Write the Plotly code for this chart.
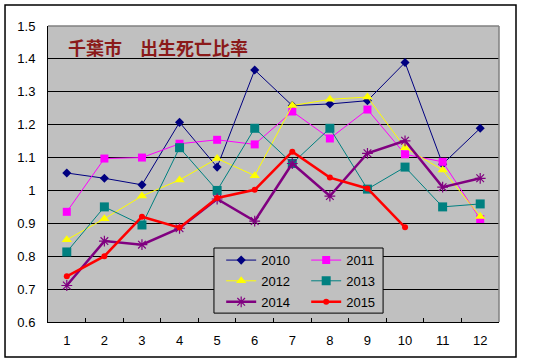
import plotly.graph_objects as go

months = list(range(1, 13))
month_labels = [str(m) for m in months]

v2010 = [1.053, 1.037, 1.017, 1.207, 1.071, 1.366, 1.258, 1.263, 1.273, 1.389, 1.080, 1.189]
v2011 = [0.935, 1.097, 1.100, 1.142, 1.154, 1.140, 1.240, 1.158, 1.246, 1.110, 1.087, 0.913]
v2012 = [0.850, 0.914, 0.983, 1.032, 1.097, 1.045, 1.258, 1.277, 1.284, 1.130, 1.062, 0.921]
v2013 = [0.813, 0.950, 0.895, 1.130, 1.000, 1.189, 1.082, 1.189, 1.004, 1.071, 0.950, 0.959]
v2014 = [0.711, 0.846, 0.835, 0.885, 0.974, 0.907, 1.082, 0.983, 1.113, 1.151, 1.010, 1.037]
v2015 = [0.739, 0.800, 0.920, 0.887, 0.977, 1.002, 1.118, 1.039, 1.006, 0.888]

y_ticks = [0.6, 0.7, 0.8, 0.9, 1.0, 1.1, 1.2, 1.3, 1.4, 1.5]
y_tick_labels = ["0.6", "0.7", "0.8", "0.9", "1", "1.1", "1.2", "1.3", "1.4", "1.5"]

title_text = "千葉市　出生死亡比率"

series = [
    ("2010", v2010, "#000080", "diamond", 7, 1, "legend"),
    ("2011", v2011, "#FF00FF", "square", 8, 1, "legend"),
    ("2012", v2012, "#FFFF00", "triangle-up", 9, 1, "legend2"),
    ("2013", v2013, "#008080", "square", 9, 1, "legend2"),
    ("2014", v2014, "#800080", "asterisk-open", 9, 2.5, "legend3"),
    ("2015", v2015, "#FF0000", "circle", 6, 2.5, "legend3"),
]

fig = go.Figure()
for name, vals, color, sym, size, lw, lg in series:
    marker = dict(symbol=sym, size=size, color=color)
    if sym == "asterisk-open":
        marker["line"] = dict(color=color, width=1.2)
    fig.add_trace(go.Scatter(
        x=months[:len(vals)], y=vals, name=name, mode="lines+markers",
        line=dict(color=color, width=lw), marker=marker, legend=lg,
    ))

font = dict(family="Liberation Sans, Arial, sans-serif", size=13, color="#000000")
leg_common = dict(orientation="h", bgcolor="rgba(0,0,0,0)", borderwidth=0,
                  font=dict(family="Liberation Sans, Arial, sans-serif", size=13, color="#000000"),
                  entrywidth=40, entrywidthmode="pixels", xanchor="left", yanchor="middle",
                  tracegroupgap=0, itemwidth=30)

fig.update_layout(
    width=533, height=363,
    margin=dict(l=48, r=34, t=26, b=41),
    paper_bgcolor="#FFFFFF",
    plot_bgcolor="#C0C0C0",
    font=font,
    showlegend=True,
    hovermode=False,
    legend=dict(x=0.384, y=0.209, **leg_common),
    legend2=dict(x=0.384, y=0.139, **leg_common),
    legend3=dict(x=0.384, y=0.068, **leg_common),
    xaxis=dict(
        range=[0.5, 12.5], tickvals=months, ticktext=month_labels,
        showgrid=False, zeroline=False, showline=True, linecolor="#000000", linewidth=1,
        ticks="", ticklabelstandoff=6, automargin=False,
        minor=dict(tickvals=[m + 0.5 for m in months[:-1]], ticks="inside", ticklen=4,
                   tickcolor="#000000", showgrid=False),
        fixedrange=True,
    ),
    yaxis=dict(
        range=[0.6, 1.5], tickvals=y_ticks, ticktext=y_tick_labels,
        showgrid=True, gridcolor="#000000", gridwidth=1, zeroline=False,
        showline=True, linecolor="#000000", linewidth=1,
        ticks="", ticklabelstandoff=9, automargin=False, fixedrange=True,
    ),
    shapes=[
        dict(type="line", xref="paper", yref="paper", x0=0, x1=1, y0=1, y1=1,
             line=dict(color="#808080", width=1.5)),
        dict(type="line", xref="paper", yref="paper", x0=1, x1=1, y0=0, y1=1,
             line=dict(color="#808080", width=1.5)),
        dict(type="rect", xref="paper", yref="paper", x0=0.368, x1=0.743, y0=0.030, y1=0.250,
             line=dict(color="#000000", width=1), fillcolor="#C0C0C0", layer="above"),
        dict(type="rect", xref="paper", yref="paper", x0=-0.0953, x1=1.0377, y0=-0.118, y1=1.0709,
             line=dict(color="#000000", width=1.5)),
    ],
    annotations=[
        dict(text="<b>" + title_text + "</b>", xref="paper", yref="paper", x=0.04, y=0.93,
             xanchor="left", yanchor="middle", showarrow=False,
             font=dict(family="Noto Sans CJK JP", size=18, color="#8B1A1A")),
    ],
)

fig.write_html("out.html", config={"displayModeBar": False},
               post_script="document.body.style.margin='0';document.body.style.overflow='hidden';")
